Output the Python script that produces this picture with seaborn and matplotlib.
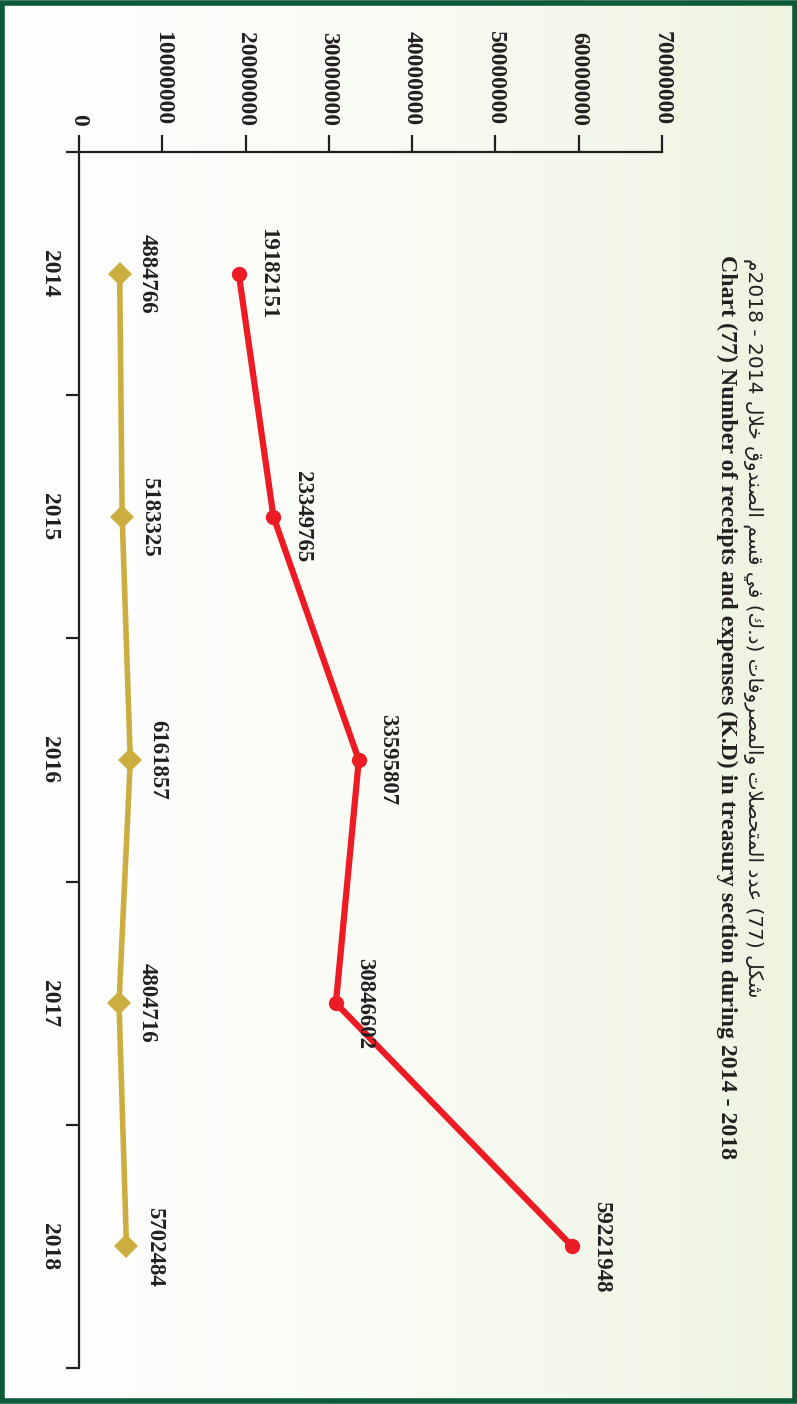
import numpy as np
import pandas as pd
import matplotlib
matplotlib.use("Agg")
import matplotlib.pyplot as plt
import seaborn as sns
from matplotlib.patches import Rectangle
from matplotlib.colors import LinearSegmentedColormap

# ---------------- data ----------------
years = [2014, 2015, 2016, 2017, 2018]
receipts = [19182151, 23349765, 33595807, 30846602, 59221948]
expenses = [4884766, 5183325, 6161857, 4804716, 5702484]
value_ticks = [0, 10000000, 20000000, 30000000, 40000000, 50000000, 60000000, 70000000]
title_en = "Chart (77) Number of receipts and expenses (K.D) in treasury section during 2014 - 2018"

# ---------------- minimal Arabic shaping ----------------
FORMS = {  # isolated base code point, dual-joining?
    'ا': (0xFE8D, False), 'د': (0xFEA9, False), 'ر': (0xFEAD, False), 'و': (0xFEED, False),
    'ش': (0xFEB5, True), 'ك': (0xFED9, True), 'ل': (0xFEDD, True), 'ع': (0xFEC9, True),
    'م': (0xFEE1, True), 'ت': (0xFE95, True), 'ح': (0xFEA1, True), 'ص': (0xFEB9, True),
    'ف': (0xFED1, True), 'ي': (0xFEF1, True), 'ق': (0xFED5, True), 'س': (0xFEB1, True),
    'ن': (0xFEE5, True), 'خ': (0xFEA5, True),
}


def shape(word):
    out = []
    i = 0
    n = len(word)
    prev_joins = False
    while i < n:
        c = word[i]
        if c not in FORMS:
            out.append(c)
            prev_joins = False
            i += 1
            continue
        if c == 'ل' and i + 1 < n and word[i + 1] == 'ا':
            out.append(chr(0xFEFC if prev_joins else 0xFEFB))
            prev_joins = False
            i += 2
            continue
        base, dual = FORMS[c]
        nxt = word[i + 1] if i + 1 < n else None
        next_joins = dual and nxt in FORMS
        if prev_joins and next_joins:
            cp = base + 3
        elif prev_joins:
            cp = base + 1
        elif next_joins:
            cp = base + 2
        else:
            cp = base
        out.append(chr(cp))
        prev_joins = dual
        i += 1
    return ''.join(out)


def vis(word):
    return shape(word)[::-1]


ar_words = ["خلال", "الصندوق", "قسم", "في"]
ar_words2 = ["والمصروفات", "المتحصلات", "عدد"]
title_ar = ("م" + "2018 - 2014 " + " ".join(vis(w) for w in ar_words) + " "
            + "(" + vis("ك") + "." + vis("د") + ") "
            + " ".join(vis(w) for w in ar_words2) + " (77) " + vis("شكل"))

# ---------------- figure ----------------
sns.set_theme(style="white")
plt.rcParams['font.family'] = ['Liberation Serif', 'DejaVu Serif']
plt.rcParams['font.weight'] = 'bold'

W, H = 797, 1404
fig = plt.figure(figsize=(W / 100, H / 100), dpi=100)

# background gradient
bg = fig.add_axes([0, 0, 1, 1], zorder=-10)
cmap = LinearSegmentedColormap.from_list("bg", ["#ffffff", "#f9fbf4", "#eef4e0"])
grad = np.linspace(0, 1, 256).reshape(1, -1)
bg.imshow(grad, aspect='auto', cmap=cmap, extent=[0, 1, 0, 1])
bg.set_axis_off()
fig.patches.append(Rectangle((0.003, 0.002), 0.994, 0.996, transform=fig.transFigure,
                             fill=False, edgecolor="#0b5a3a", linewidth=4.0, zorder=20))

left, right = 79 / W, 662 / W
top, bottom = 1 - 152 / H, 1 - 1368 / H
ax = fig.add_axes([left, bottom, right - left, top - bottom])
ax.patch.set_alpha(0)

df_r = pd.DataFrame({"year": years, "value": receipts})
df_e = pd.DataFrame({"year": years, "value": expenses})

sns.lineplot(data=df_r, x="value", y="year", orient="y", sort=False, ax=ax,
             color="#ed1c24", linewidth=4.5, marker="o", markersize=11,
             markeredgewidth=0, legend=False)
sns.lineplot(data=df_e, x="value", y="year", orient="y", sort=False, ax=ax,
             color="#cbae3f", linewidth=4.0, marker="D", markersize=12,
             markeredgewidth=0, legend=False)

for y, v in zip(years, receipts):
    ax.annotate(f"{v}", (v, y), xytext=(21, 0), textcoords="offset points",
                rotation=-90, ha="center", va="center", fontsize=16.5,
                fontweight="bold", color="#231f20")
for y, v in zip(years, expenses):
    ax.annotate(f"{v}", (v, y), xytext=(20, 0), textcoords="offset points",
                rotation=-90, ha="center", va="center", fontsize=16.5,
                fontweight="bold", color="#231f20")

ax.set_xlim(0, 70000000)
ax.set_ylim(2018.5, 2013.5)
ax.set_xlabel("")
ax.set_ylabel("")

for s in ["right", "bottom"]:
    ax.spines[s].set_visible(False)
for s in ["top", "left"]:
    ax.spines[s].set_visible(True)
    ax.spines[s].set_color("#231f20")
    ax.spines[s].set_linewidth(1.6)

ax.xaxis.tick_top()
ax.set_xticks(value_ticks)
ax.set_xticklabels([str(t) for t in value_ticks], rotation=-90, fontsize=17,
                   fontweight="bold", color="#231f20")
ax.tick_params(axis="x", which="major", direction="out", length=12, width=1.6,
               color="#231f20", pad=7, top=True, bottom=False)

ax.set_yticks(years)
ax.set_yticklabels([str(y) for y in years], rotation=-90, fontsize=17,
                   fontweight="bold", color="#231f20", va="center")
ax.set_yticks([2013.5, 2014.5, 2015.5, 2016.5, 2017.5, 2018.5], minor=True)
ax.tick_params(axis="y", which="major", length=0, pad=14)
ax.tick_params(axis="y", which="minor", direction="out", length=9.5, width=1.6,
               color="#231f20", left=True)
ax.grid(False)

fig.text(727 / W, 1 - 255 / H, title_en, rotation=-90, ha="center", va="top",
         fontsize=17.2, fontweight="bold", color="#231f20")
fig.text(753 / W, 1 - 258 / H, title_ar, rotation=-90, ha="center", va="top",
         fontsize=14.5, fontweight="normal", color="#231f20",
         family=["DejaVu Sans"])

fig.savefig("out.png", dpi=100)
